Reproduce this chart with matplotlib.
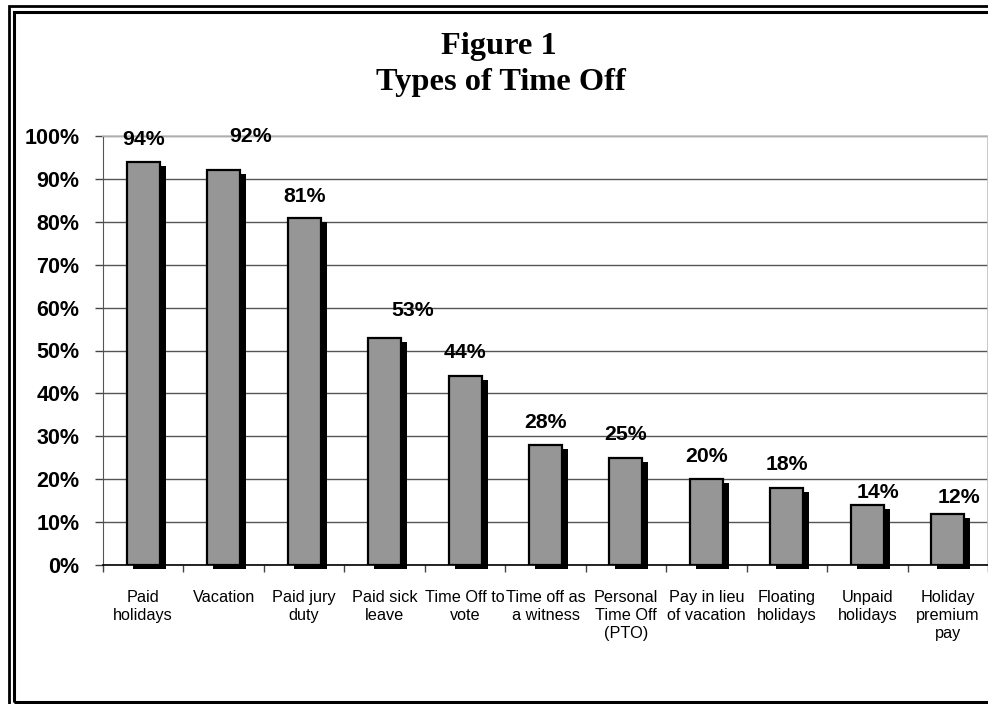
"""Figure 1 - Types of Time Off, bar chart with drop shadows (Excel style)."""
import matplotlib
matplotlib.use("Agg")
import matplotlib.pyplot as plt
import matplotlib.transforms as mtransforms
from matplotlib.patches import Rectangle
import numpy as np

categories = [
    "Paid\nholidays", "Vacation", "Paid jury\nduty", "Paid sick\nleave",
    "Time Off to\nvote", "Time off as\na witness", "Personal\nTime Off\n(PTO)",
    "Pay in lieu\nof vacation", "Floating\nholidays", "Unpaid\nholidays",
    "Holiday\npremium\npay",
]
percent = [94, 92, 81, 53, 44, 28, 25, 20, 18, 14, 12]
y_ticks = [0, 10, 20, 30, 40, 50, 60, 70, 80, 90, 100]

# hand-placed value labels in the original (pixel nudges, x / y above bar top)
label_dx = [0, 27, 0, 28, 0, 0, 0, 0, 0, 11, 11]
label_dy = [22, 34, 21, 27, 24, 22, 23, 23, 23, 12, 16]

plt.rcParams["font.family"] = ["Liberation Sans", "DejaVu Sans"]

W, H, DPI = 988, 704, 100
fig = plt.figure(figsize=(W / DPI, H / DPI), dpi=DPI)
fig.patch.set_facecolor("white")

# axes placed in pixels
left, right, top, bottom = 103, 988, 136, 565
ax = fig.add_axes([left / W, 1 - bottom / H, (right - left) / W, (bottom - top) / H])

x = np.arange(len(categories))
bw = 0.41
px = 1.0 / DPI
shadow_tr = ax.transData + mtransforms.ScaledTranslation(6 * px, -4 * px, fig.dpi_scale_trans)

shadows = ax.bar(x, percent, width=bw, color="black", linewidth=0, zorder=2)
for b in shadows:
    b.set_transform(shadow_tr)
    b.set_clip_on(False)
ax.bar(x, percent, width=bw, color="#969696", edgecolor="black", linewidth=1.6, zorder=3)

for i, v in enumerate(percent):
    ax.annotate(f"{v}%", (x[i], v), xytext=(label_dx[i], label_dy[i]),
                textcoords="offset pixels", ha="center", va="center",
                fontsize=15.3, fontweight="bold", zorder=4, annotation_clip=False)

ax.set_xlim(-0.5, len(categories) - 0.5)
ax.set_ylim(0, 100)
ax.set_yticks(y_ticks)
ax.set_yticklabels([f"{t}%" for t in y_ticks], fontsize=15.5, fontweight="bold")
ax.yaxis.grid(True, color="#555555", linewidth=1.0, zorder=0)
ax.set_axisbelow(True)

ax.set_xticks(x)
ax.set_xticklabels(categories, fontsize=11.7, linespacing=1.25, va="top")
ax.set_xticks(np.arange(-0.5, len(categories), 1), minor=True)
ax.tick_params(axis="x", which="major", length=0, pad=18)
ax.tick_params(axis="x", which="minor", length=5, width=1, color="#444444", direction="out")
ax.tick_params(axis="y", length=6, width=1, color="#444444", direction="out", pad=11)

for side in ("top", "right"):
    ax.spines[side].set_color("#c0c0c0")
    ax.spines[side].set_linewidth(1.2)
ax.spines["left"].set_color("#555555")
ax.spines["bottom"].set_color("black")
ax.spines["bottom"].set_linewidth(1.2)

title_font = dict(ha="center", va="baseline", fontsize=23.3, fontweight="bold",
                  family=["Liberation Serif", "DejaVu Serif"])
fig.text(499 / W, 1 - 54 / H, "Figure 1", **title_font)
fig.text(501 / W, 1 - 90 / H, "Types of Time Off", **title_font)

# double frame round the chart (the right side is cut off in the original)
outer = Rectangle((8.5 * px, -0.5), 20, (H - 5.5) * px + 0.5, fill=False,
                  edgecolor="black", linewidth=2.0, transform=fig.dpi_scale_trans)
inner = Rectangle((13.5 * px, 2 * px), 20, (H - 11.5 - 2) * px, fill=False,
                  edgecolor="black", linewidth=2.2, transform=fig.dpi_scale_trans)
fig.add_artist(outer)
fig.add_artist(inner)

fig.savefig("out.png", dpi=DPI)
